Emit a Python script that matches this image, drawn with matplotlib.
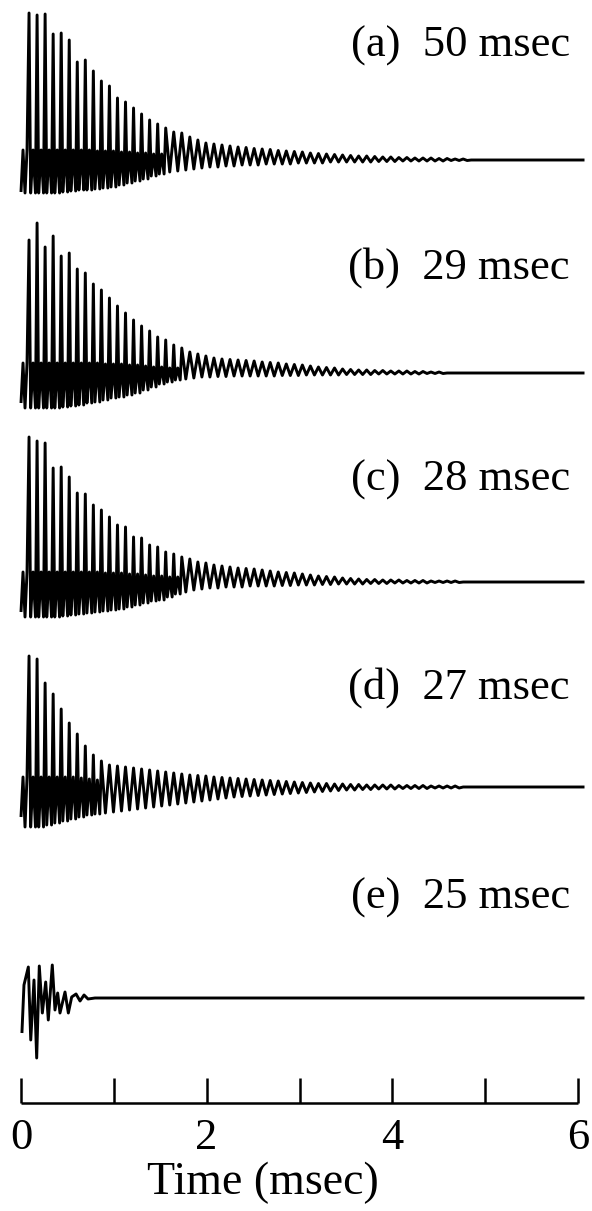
import numpy as np
import matplotlib
matplotlib.use("Agg")
import matplotlib.pyplot as plt

plt.rcParams['font.family'] = ['Liberation Serif', 'DejaVu Serif']

# ---------------- data ----------------
time_ticks = [0, 1, 2, 3, 4, 5, 6]
time_tick_labels = ['0', '', '2', '', '4', '', '6']
x_label = 'Time (msec)'
panel_labels = ['(a)  50 msec', '(b)  29 msec', '(c)  28 msec', '(d)  27 msec', '(e)  25 msec']

period = 0.0866          # msec between successive spikes (traces a-d)
t_end = 6.07             # msec, end of traces

# trace (a): value at t=0, spike heights, trough depths, fast-band tops per cycle
start_a = -32
peaks_a = [147, 145, 146, 126, 127, 120, 98, 100, 89, 79,
           74, 62, 58, 52, 46, 40, 36, 32, 28, 27,
           23, 20, 17, 16, 15, 14, 13, 12.5, 11.5, 11,
           10.5, 9.5, 9, 8.5, 8, 7, 6.5, 6, 5.5, 5,
           4.5, 4, 4, 3.5, 3, 3, 2.5, 2.5, 2, 2,
           2, 1.5, 1.5, 1, 1]
troughs_a = [-33, -33, -33, -33, -32, -31, -30, -30, -29, -28,
             -27, -25, -23, -21, -19, -16, -14, -12, -11, -10,
             -9, -8, -7, -7, -6, -6, -5, -5, -5, -4,
             -4, -4, -4, -3, -3, -3, -3, -2, -2, -2,
             -2, -2, -2, -1.5, -1.5, -1.5, -1, -1, -1, -1,
             -1, -1, -0.5, -0.5, -0.5]
band_a = [10, 10, 10, 10, 10, 10, 10, 10, 9, 9, 9, 8, 8, 7, 7, 6, 6]

# trace (b)
start_b = -30
peaks_b = [133, 150, 126, 137, 117, 120, 104, 100, 89, 83,
           75, 67, 60, 53, 47, 42, 36, 33, 28, 25,
           21, 19, 17, 15, 14, 13.5, 13, 12.5, 12, 11,
           10.5, 10, 9, 8.5, 8, 7, 6, 5.5, 5, 4,
           3.5, 3, 3, 2.5, 2.5, 2, 2, 2, 1.5, 1.5,
           1, 1]
troughs_b = [-35, -35, -35, -35, -34, -33, -32, -30, -29, -27,
             -25, -24, -22, -20, -17, -14, -11, -9, -7, -6,
             -5, -4, -4, -3.5, -3.5, -3, -3, -3, -3, -3,
             -3, -2.5, -2.5, -2.5, -2, -2, -2, -2, -2, -1.5,
             -1.5, -1.5, -1.5, -1, -1, -1, -1, -1, -1, -0.5,
             -0.5, -0.5]
band_b = [10, 10, 10, 10, 10, 10, 10, 10, 10, 9, 9, 9, 8, 8, 7, 6, 6, 5, 5]

# trace (c)
start_c = -30
peaks_c = [145, 141, 139, 114, 115, 105, 89, 88, 77, 72,
           65, 57, 55, 45, 44, 37, 35, 30, 28, 25,
           23, 20, 19, 17, 16, 15, 14, 13.5, 13, 12,
           11, 10, 9.5, 9, 8, 7, 6, 5.5, 5, 4,
           3.5, 3, 2.5, 2.5, 2, 2, 2, 1.5, 1.5, 1.5,
           1, 1, 1, 1]
troughs_c = [-35, -35, -35, -35, -34, -33, -32, -31, -30, -29,
             -28, -27, -25, -23, -21, -19, -18, -15, -12, -10,
             -8, -7, -6, -6, -5, -5, -5, -4, -4, -4,
             -4, -3.5, -3.5, -3, -3, -3, -2.5, -2.5, -2, -2,
             -2, -2, -1.5, -1.5, -1.5, -1, -1, -1, -1, -1,
             -0.5, -0.5, -0.5, -0.5]
band_c = [10, 10, 10, 10, 10, 10, 10, 10, 10, 9, 9, 9, 8, 8, 7, 6, 6, 5, 5]

# trace (d)
start_d = -30
peaks_d = [131, 128, 104, 93, 78, 64, 53, 41, 32, 26,
           22, 21, 20, 19, 18, 17, 16, 15, 14, 13,
           12, 11.5, 11, 10, 9.5, 9, 8.5, 8, 7.5, 7,
           6.5, 6, 5.5, 5, 4.5, 4, 3.5, 3.5, 3, 3,
           2.5, 2.5, 2, 2, 2, 2, 1.5, 1.5, 1.5, 1.5,
           1, 1, 1, 1]
troughs_d = [-40, -40, -38, -36, -34, -32, -30, -28, -27, -26,
             -25, -24, -23, -22, -21, -20, -19, -18, -17, -16,
             -15, -14, -13, -12, -11, -10, -9.5, -9, -8.5, -8,
             -7.5, -7, -6.5, -6, -5.5, -5, -4.5, -4, -3.5, -3,
             -3, -2.5, -2.5, -2, -2, -2, -1.5, -1.5, -1.5, -1.5,
             -1, -1, -1, -1]
band_d = [10, 10, 10, 10, 10, 10, 9, 8, 7]

# trace (e): irregular short burst, listed extremum by extremum
times_e = [0.010, 0.032, 0.079, 0.105, 0.140, 0.169, 0.197, 0.230, 0.266, 0.294,
           0.337, 0.366, 0.395, 0.420, 0.474, 0.510, 0.546, 0.593, 0.636, 0.679,
           0.722, 0.797, 6.07]
values_e = [-35, 13, 31, -42, 18, -60, 32, -15, 16, -22,
            33, -12, 5, -15, 6, -15, 1, 4, -3, 3,
            -1, 0, 0]

# ---------------- build traces ----------------
def build(start, peaks, troughs, band):
    # cycle 0 is a band-only half cycle before the first spike
    t = [0.0, 0.25 * period, 0.5 * period, 0.75 * period]
    y = [start, band[0], troughs[0], band[0]]
    for k, (p, tr) in enumerate(zip(peaks, troughs), start=1):
        tk = k * period
        if k - 1 < len(band):
            t += [tk, tk + 0.2 * period, tk + 0.5 * period, tk + 0.8 * period]
            y += [p, tr, band[k - 1], tr]
        else:
            t += [tk, tk + 0.5 * period]
            y += [p, tr]
    t += [(len(peaks) + 1) * period, t_end]
    y += [0, 0]
    return np.array(t), np.array(y)

traces = [build(start_a, peaks_a, troughs_a, band_a),
          build(start_b, peaks_b, troughs_b, band_b),
          build(start_c, peaks_c, troughs_c, band_c),
          build(start_d, peaks_d, troughs_d, band_d),
          (np.array(times_e), np.array(values_e))]

# ---------------- layout (pixels) ----------------
W, H = 592, 1211
fig = plt.figure(figsize=(W / 100, H / 100), dpi=100)

def rect(x0, y0, x1, y1):
    return [x0 / W, 1 - y1 / H, (x1 - x0) / W, (y1 - y0) / H]

x_left, x_right = 21, 578
baselines = [160, 373, 582, 787, 998]
label_y = [46, 268, 480, 688, 898]
y_up, y_down = 165, 70

for (t, y), yb, lab, ly in zip(traces, baselines, panel_labels, label_y):
    ax = fig.add_axes(rect(x_left, yb - y_up, x_right, yb + y_down))
    ax.plot(t, y, color='black', lw=2.1, clip_on=False,
            solid_joinstyle='round', solid_capstyle='butt')
    ax.set_xlim(0, 6)
    ax.set_ylim(-y_down, y_up)
    ax.axis('off')
    fig.text(570 / W, 1 - ly / H, lab, ha='right', va='center', fontsize=32)

# time axis
axt = fig.add_axes(rect(x_left, 1060, x_right, 1103))
axt.set_xlim(0, 6)
axt.set_ylim(0, 1)
for s in ['top', 'left', 'right']:
    axt.spines[s].set_visible(False)
axt.spines['bottom'].set_linewidth(1.8)
axt.spines['bottom'].set_capstyle('butt')
axt.set_yticks([])
axt.set_xticks(time_ticks)
axt.set_xticklabels(time_tick_labels)
axt.tick_params(axis='x', direction='in', length=18, width=1.8, labelsize=32, pad=11)
axt.patch.set_visible(False)

fig.text(263 / W, 1 - 1183 / H, x_label, ha='center', va='center', fontsize=33)

fig.savefig('out.png', dpi=100)
